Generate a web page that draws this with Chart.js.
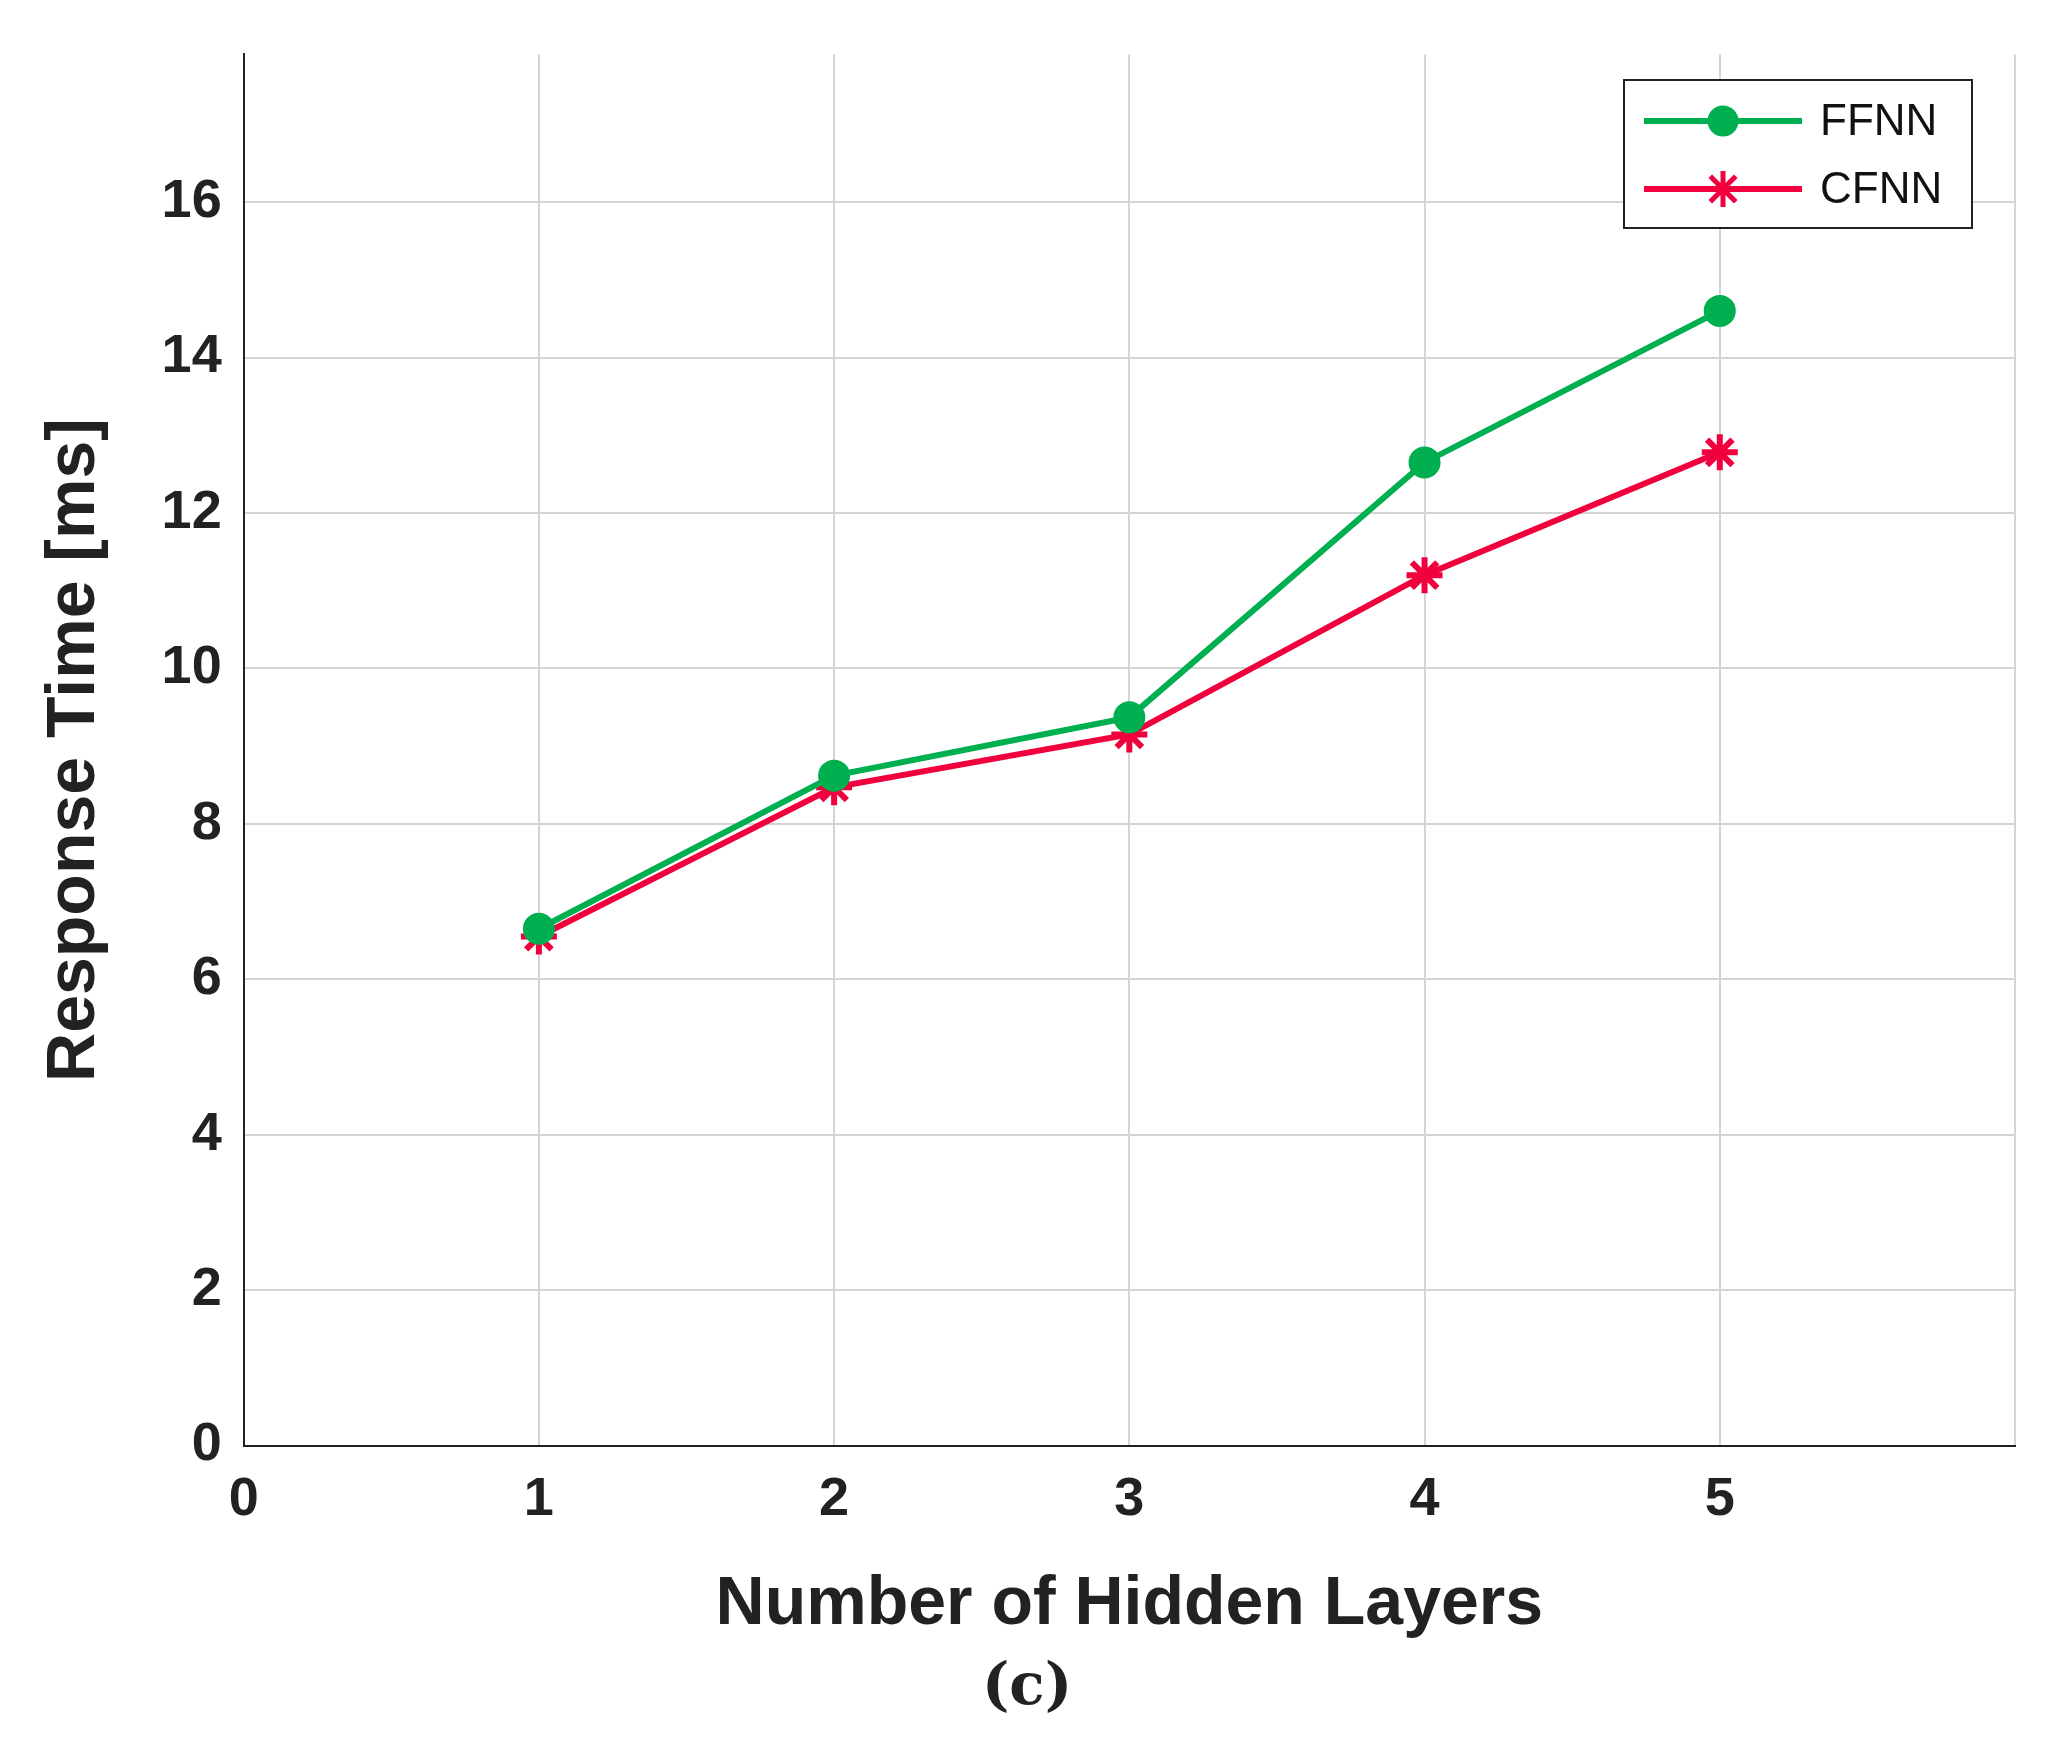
<!DOCTYPE html>
<html>
<head>
<meta charset="utf-8">
<script src="https://cdn.jsdelivr.net/npm/chart.js@4/dist/chart.umd.min.js"></script>
<style>
  body { margin: 0; background: #fff; }
  .wrap { position: relative; width: 2054px; height: 1650px; }
  .caption { text-align: center; font-family: "DejaVu Serif", "Liberation Serif", serif; font-weight: bold; font-size: 58px; color: #222; margin-top: 0; }
</style>
</head>
<body>
<div class="wrap"><canvas id="chart"></canvas></div>
<div class="caption">(c)</div>
<script>
const layers = [1, 2, 3, 4, 5];
const ffnn = [6.65, 8.62, 9.37, 12.65, 14.6];
const cfnn = [6.55, 8.47, 9.15, 11.2, 12.78];
const seriesNames = ['FFNN', 'CFNN'];

const GREEN = '#00b050';
const RED = '#f0003c';

// boxed legend with line + marker samples, top right of the plot
const boxLegend = {
    id: 'boxLegend',
    afterDraw(chart) {
        const ctx = chart.ctx;
        const x = 1624, y = 80, w = 348, h = 148;
        ctx.save();
        ctx.fillStyle = '#fff';
        ctx.fillRect(x, y, w, h);
        ctx.strokeStyle = '#222';
        ctx.lineWidth = 2;
        ctx.strokeRect(x, y, w, h);
        chart.data.datasets.forEach((ds, i) => {
            const cy = y + 41 + i * 68;
            ctx.strokeStyle = ds.borderColor;
            ctx.lineWidth = 6;
            ctx.beginPath();
            ctx.moveTo(x + 20, cy);
            ctx.lineTo(x + 178, cy);
            ctx.stroke();
            ctx.fillStyle = ds.pointBackgroundColor;
            ctx.strokeStyle = ds.borderColor;
            ctx.lineWidth = 5;
            Chart.helpers.drawPoint(ctx, {
                pointStyle: ds.pointStyle, radius: ds.pointRadius, borderWidth: 5
            }, x + 99, cy);
            ctx.fillStyle = '#111';
            ctx.font = '44px "Liberation Sans", Arial, sans-serif';
            ctx.textBaseline = 'middle';
            ctx.fillText(ds.label, x + 196, cy + 2);
        });
        ctx.restore();
    }
};

const tickFont = { family: '"Liberation Sans", Arial, sans-serif', size: 54, weight: 'bold' };
const titleFont = { family: '"Liberation Sans", Arial, sans-serif', size: 68, weight: 'bold' };

new Chart(document.getElementById('chart'), {
    type: 'line',
    data: {
        datasets: [
            {
                label: seriesNames[0],
                data: layers.map((l, i) => ({ x: l, y: ffnn[i] })),
                borderColor: GREEN, backgroundColor: GREEN,
                pointBackgroundColor: GREEN, pointBorderColor: GREEN,
                pointStyle: 'circle', pointRadius: 13, borderWidth: 6
            },
            {
                label: seriesNames[1],
                data: layers.map((l, i) => ({ x: l, y: cfnn[i] })),
                borderColor: RED, backgroundColor: RED,
                pointBackgroundColor: RED, pointBorderColor: RED,
                pointStyle: 'star', pointRadius: 18, pointBorderWidth: 6, borderWidth: 6
            }
        ]
    },
    options: {
        responsive: true,
        maintainAspectRatio: false,
        animation: false,
        layout: { padding: { top: 36, right: 39, left: 30, bottom: 0 } },
        plugins: { legend: { display: false }, tooltip: { enabled: false } },
        scales: {
            x: {
                type: 'linear', min: 0, max: 6,
                ticks: {
                    stepSize: 1, color: '#222', font: tickFont, padding: 22,
                    callback: v => (v <= 5 ? v : '')
                },
                grid: { color: '#d4d4d4', lineWidth: 2, drawTicks: false },
                border: { color: '#222', width: 2 },
                title: { display: true, text: 'Number of Hidden Layers', color: '#222', font: titleFont, padding: { top: 10 } }
            },
            y: {
                min: 0, max: 17.9,
                afterBuildTicks: axis => { axis.ticks = axis.ticks.filter(t => t.value <= 16); },
                ticks: { stepSize: 2, color: '#222', font: tickFont, padding: 22 },
                grid: { color: '#d4d4d4', lineWidth: 2, drawTicks: false },
                border: { color: '#222', width: 2 },
                title: { display: true, text: 'Response Time [ms]', color: '#222', font: titleFont, padding: { bottom: 24 } }
            }
        }
    },
    plugins: [boxLegend]
});
</script>
</body>
</html>
